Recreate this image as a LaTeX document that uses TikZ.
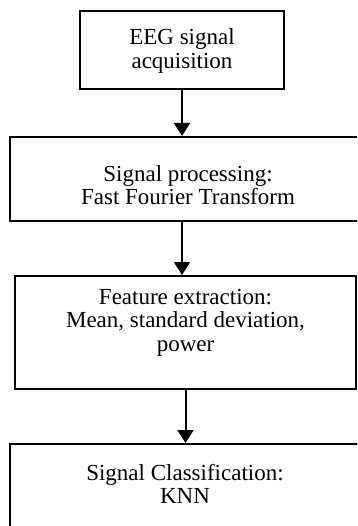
\documentclass[tikz,border=0pt]{standalone}
\usepackage{fontspec}
\setmainfont{Liberation Serif}
\usetikzlibrary{arrows.meta,calc}
\begin{document}
\begin{tikzpicture}[x=1pt,y=-1pt,
  box/.style={draw=black,line width=2pt,rectangle,inner sep=0pt},
  txt/.style={align=center,font=\fontsize{23}{23.5}\selectfont,inner sep=0pt},
  arr/.style={line width=2pt,-{Triangle[length=13pt,width=16pt]}}]
\useasboundingbox (0,0) rectangle (357,526);
\clip (0,0) rectangle (357,526);
\node[box,minimum width=204pt,minimum height=78pt] (b1) at (182,50) {};
\node[box,minimum width=356pt,minimum height=84pt] (b2) at (188,179) {};
\node[box,minimum width=341pt,minimum height=113pt] (b3) at (185.5,332.5) {};
\node[box,minimum width=350pt,minimum height=90pt] (b4) at (185,489) {};
\node[txt] (t1) at ($(b1.center)+(0,1)$) {EEG signal\\acquisition};
\node[txt] (t2) at ($(b2.center)+(0,6)$) {Signal processing:\\Fast Fourier Transform};
\node[txt] (t3) at ($(b3.center)+(0,-10)$) {Feature extraction:\\Mean, standard deviation,\\power};
\node[txt] (t4) at ($(b4.center)+(0,-5)$) {Signal Classification:\\KNN};
\draw[arr] (b1.south) -- (b1.south |- b2.north);
\draw[arr] (b1.south |- b2.south) -- (b1.south |- b3.north);
\draw[arr] (b3.south) -- (b3.south |- b4.north);
\end{tikzpicture}
\end{document}
